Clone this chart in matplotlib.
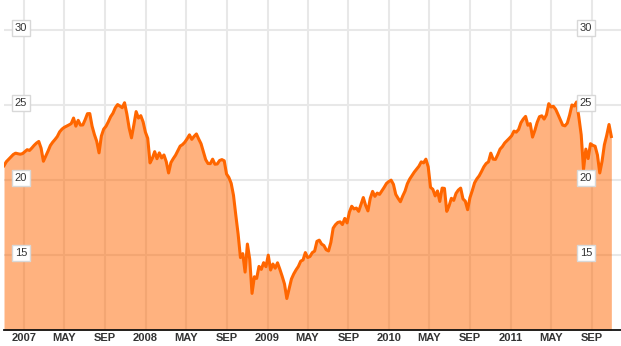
import matplotlib
matplotlib.use("Agg")
import matplotlib.pyplot as plt
import pandas as pd
import numpy as np

# ---- data (weekly values) ----
start_date = "2006-11-02"
end_date = "2011-10-30"
values = [
    20.95, 21.22, 21.38, 21.54, 21.70, 21.79, 21.75, 21.72, 21.76, 21.89,
    22.02, 21.97, 22.13, 22.31, 22.46, 22.57, 22.12, 21.25, 21.59, 21.93,
    22.30, 22.52, 22.70, 22.90, 23.21, 23.39, 23.51, 23.59, 23.67, 23.76,
    24.13, 23.59, 23.98, 23.66, 23.67, 24.02, 24.42, 24.43, 23.59, 23.03,
    22.58, 21.81, 22.93, 23.39, 23.58, 23.88, 24.22, 24.45, 24.81, 25.03,
    24.93, 24.82, 25.15, 24.40, 23.46, 22.81, 23.66, 24.56, 24.13, 24.29,
    23.88, 23.19, 22.78, 21.14, 21.45, 21.89, 21.42, 21.81, 21.47, 21.67,
    21.22, 20.47, 21.16, 21.42, 21.65, 21.95, 22.26, 22.36, 22.52, 22.75,
    23.01, 22.71, 22.91, 23.07, 22.73, 22.42, 21.90, 21.36, 21.10, 21.09,
    21.39, 21.05, 21.07, 21.30, 21.36, 21.28, 20.40, 20.17, 19.78, 18.98,
    17.65, 16.39, 14.83, 15.09, 13.86, 15.73, 14.72, 12.44, 13.55, 13.44,
    14.24, 14.04, 14.49, 14.22, 14.99, 14.00, 14.40, 14.12, 14.48, 14.05,
    13.58, 13.07, 12.10, 12.75, 13.40, 13.74, 14.01, 14.24, 14.59, 14.67,
    15.16, 14.83, 14.90, 15.16, 15.26, 15.91, 15.99, 15.73, 15.63, 15.35,
    15.27, 15.84, 16.79, 17.02, 17.17, 17.21, 17.03, 17.44, 17.14, 17.86,
    18.25, 18.07, 18.13, 17.91, 18.38, 18.83, 18.31, 17.94, 18.78, 19.24,
    18.91, 19.13, 19.04, 19.27, 19.51, 19.77, 19.90, 19.99, 19.71, 19.04,
    18.78, 18.55, 18.93, 19.26, 19.75, 20.06, 20.29, 20.53, 20.72, 20.92,
    21.21, 21.14, 21.39, 20.88, 19.51, 19.38, 18.94, 19.27, 18.57, 19.46,
    19.44, 17.91, 18.28, 18.78, 18.64, 19.11, 19.33, 19.46, 18.74, 18.59,
    18.02, 18.82, 19.29, 19.81, 20.08, 20.28, 20.57, 20.88, 21.10, 21.21,
    21.79, 21.39, 21.37, 21.69, 22.06, 22.23, 22.47, 22.62, 22.78, 22.95,
    23.26, 23.19, 23.37, 23.82, 24.06, 24.24, 23.65, 23.76, 22.86, 23.30,
    23.84, 24.22, 24.28, 24.06, 24.35, 25.09, 24.87, 24.91, 24.71, 24.37,
    24.01, 23.66, 23.61, 23.79, 24.33, 25.00, 24.93, 25.20, 24.18, 23.01,
    20.70, 22.06, 21.43, 22.42, 22.31, 22.25, 21.67, 20.47, 21.25, 22.35,
    22.97, 23.70, 22.90,
]
y_ticks = [15, 20, 25, 30]
y_tick_labels = ["15", "20", "25", "30"]
x_tick_dates = ["2007-01-01", "2007-05-01", "2007-09-01", "2008-01-01", "2008-05-01",
                "2008-09-01", "2009-01-01", "2009-05-01", "2009-09-01", "2010-01-01",
                "2010-05-01", "2010-09-01", "2011-01-01", "2011-05-01", "2011-09-01"]
x_tick_labels = ["2007", "MAY", "SEP", "2008", "MAY", "SEP", "2009", "MAY", "SEP",
                 "2010", "MAY", "SEP", "2011", "MAY", "SEP"]

dates = pd.date_range(start_date, end_date, periods=len(values))
vals = np.array(values)

fig = plt.figure(figsize=(6.21, 3.46), dpi=100)
ax = fig.add_axes([4 / 621, 16 / 346, 617 / 621, 330 / 346])

ax.set_xlim(pd.Timestamp("2006-11-02"), pd.Timestamp("2011-11-28"))
ax.set_ylim(10, 32)

ax.set_yticks(y_ticks)
ax.set_xticks(pd.to_datetime(x_tick_dates))
ax.set_xticklabels(x_tick_labels)
ax.grid(True, color="#e8e8e8", linewidth=1.5, zorder=0)
ax.set_axisbelow(True)

ax.fill_between(dates, vals, 10, color="#FF6600", alpha=0.5, linewidth=0, zorder=2)
ax.plot(dates, vals, color="#FF6600", linewidth=2.2, zorder=3, solid_joinstyle="round")

for s in ["left", "right", "top"]:
    ax.spines[s].set_visible(False)
ax.spines["bottom"].set_color("#111111")
ax.spines["bottom"].set_linewidth(1.3)
ax.spines["bottom"].set_zorder(5)

ax.tick_params(axis="y", length=0, labelleft=False)
ax.tick_params(axis="x", length=0, pad=2.5, colors="#333333", labelsize=8)
for lab in ax.get_xticklabels():
    lab.set_fontweight("bold")
    lab.set_family(["Liberation Sans Narrow", "Liberation Sans", "DejaVu Sans"])

box = dict(boxstyle="square,pad=0.25", fc="white", ec="#d8d8d8", lw=1)
for v, t in zip(y_ticks, y_tick_labels):
    for xf in (17 / 617, 582 / 617):
        ax.text(xf, v + 0.15, t, transform=ax.get_yaxis_transform(),
                ha="center", va="center", fontsize=8, color="#333333",
                family=["Liberation Sans", "DejaVu Sans"], bbox=box, zorder=6)

fig.savefig("out.png", dpi=100)
